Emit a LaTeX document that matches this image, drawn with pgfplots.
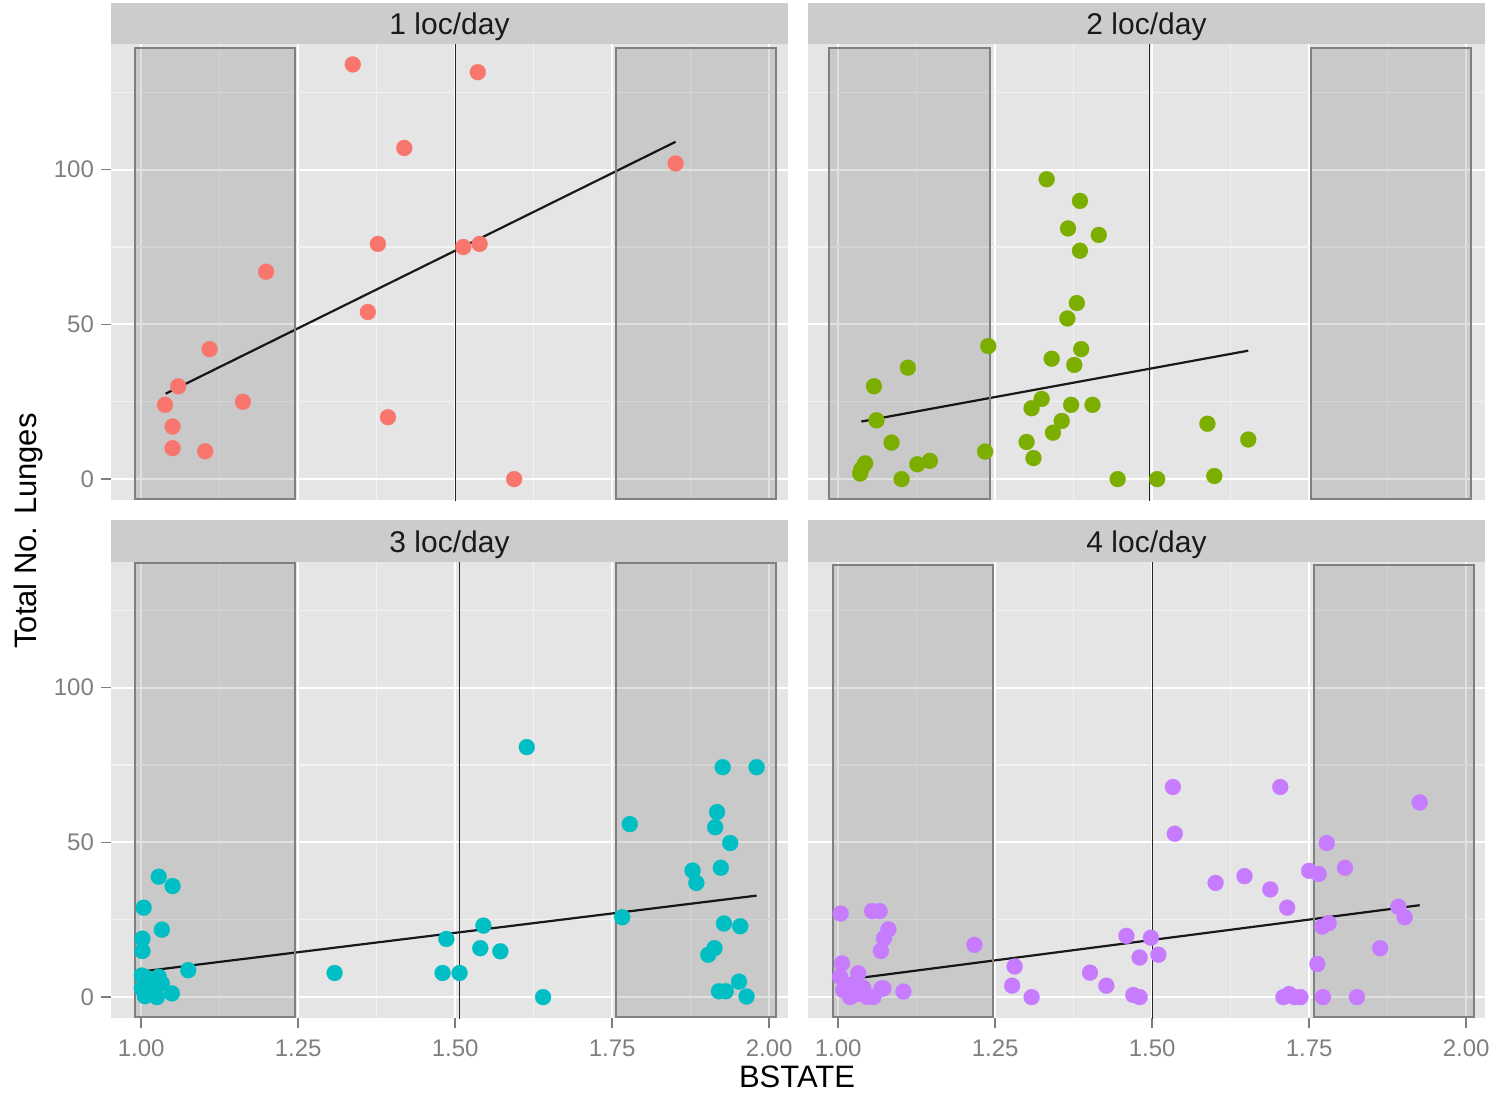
\documentclass[border=0pt]{standalone}
\usepackage{fontspec}
\setmainfont{Liberation Sans}
\usepackage{pgfplots}
\pgfplotsset{compat=1.18}
\definecolor{c1}{HTML}{F8766D}
\definecolor{c2}{HTML}{7CAE00}
\definecolor{c3}{HTML}{00BFC4}
\definecolor{c4}{HTML}{C77CFF}
\definecolor{bgpanel}{HTML}{E5E5E5}
\definecolor{gridminor}{HTML}{F2F2F2}
\definecolor{stripbg}{HTML}{CCCCCC}
\definecolor{tickgray}{HTML}{7F7F7F}
\definecolor{striptext}{HTML}{1A1A1A}
\pgfplotsset{
  facet/.style={
    scale only axis, width=338.5pt, height=228pt,
    xmin=0.952, xmax=2.030, ymin=-6.75, ymax=140.6,
    axis background/.style={fill=bgpanel},
    axis line style={draw=none},
    xtick={1,1.25,1.5,1.75,2}, ytick={0,50,100},
    minor xtick={1.125,1.375,1.625,1.875}, minor ytick={25,75,125},
    grid=both,
    major grid style={white, line width=1.1pt},
    minor grid style={gridminor, line width=0.55pt},
    tick align=outside,
    major tick length=5pt, minor tick length=0pt,
    tick style={tickgray, line width=0.8pt},
    xtick pos=bottom, ytick pos=left,
    /pgf/number format/assume math mode=true,
    tick label style={font=\fontsize{12}{14}\selectfont, text=tickgray},
    xticklabel style={yshift=-2.5pt},
  },
  xlab/.style={xticklabel={\pgfmathprintnumber[fixed,fixed zerofill,precision=2,assume math mode=true]{\tick}}},
  ylab/.style={yticklabel={\pgfmathprintnumber[assume math mode=true]{\tick}}},
  noxt/.style={xticklabels={}, every x tick/.append style={draw=none}},
  noyt/.style={yticklabels={}, every y tick/.append style={draw=none}},
  pts/.style={only marks, mark=*, mark size=4pt, color=#1, mark options={draw=#1, fill=#1, line width=0.1pt}},
  fitline/.style={black!90, line width=1.1pt, no marks},
  box/.style={draw=black!50, line width=1pt, fill=black, fill opacity=0.12, draw opacity=1, no marks},
  vline/.style={black!85, line width=0.6pt, no marks},
}
\begin{document}
\begin{tikzpicture}
\useasboundingbox (0,0) rectangle (751.5pt,547pt);
% Panel 1
\begin{axis}[facet, ylab, noxt, at={(55.5pt,297pt)}, anchor=south west]
\addplot[pts=c1] coordinates {
(1.337,134) (1.536,131.5) (1.419,107) (1.851,102) (1.377,76) (1.513,75) (1.539,76)
(1.199,67) (1.361,54) (1.109,42) (1.059,30) (1.038,24) (1.162,25) (1.050,17)
(1.050,10) (1.102,9) (1.393,20) (1.594,0)};
\addplot[fitline] coordinates {(1.039,27.6) (1.851,109.0)};
\addplot[box] coordinates {(0.990,-6.3) (1.245,-6.3) (1.245,139.3) (0.990,139.3)} -- cycle;
\addplot[box] coordinates {(1.756,-6.3) (2.011,-6.3) (2.011,139.3) (1.756,139.3)} -- cycle;
\addplot[vline] coordinates {(1.501,-7) (1.501,141)};
\end{axis}
% Panel 2
\begin{axis}[facet, noxt, noyt, at={(404pt,297pt)}, anchor=south west]
\addplot[pts=c2] coordinates {
(1.332,96.9) (1.385,89.9) (1.366,81.0) (1.415,78.9) (1.385,73.8) (1.380,56.9)
(1.365,51.9) (1.239,43.0) (1.387,42.0) (1.340,38.9) (1.376,36.9) (1.111,36.0)
(1.057,30.0) (1.324,25.9) (1.308,22.9) (1.371,24.0) (1.405,24.0) (1.356,18.8)
(1.061,19.0) (1.588,17.9) (1.342,15.0) (1.085,11.8) (1.653,12.8) (1.300,12.0)
(1.234,8.9) (1.311,6.8) (1.146,5.9) (1.126,4.8) (1.043,5.1) (1.037,3.2)
(1.035,1.8) (1.101,0) (1.445,0) (1.508,0) (1.599,1.0)};
\addplot[fitline] coordinates {(1.037,18.6) (1.653,41.5)};
\addplot[box] coordinates {(0.986,-6.3) (1.242,-6.3) (1.242,139.3) (0.986,139.3)} -- cycle;
\addplot[box] coordinates {(1.753,-6.3) (2.008,-6.3) (2.008,139.3) (1.753,139.3)} -- cycle;
\addplot[vline] coordinates {(1.496,-7) (1.496,141)};
\end{axis}
% Panel 3
\begin{axis}[facet, xlab, ylab, at={(55.5pt,38pt)}, anchor=south west]
\addplot[pts=c3] coordinates {
(1.614,80.8) (1.926,74.3) (1.980,74.3) (1.917,59.8) (1.778,55.9) (1.914,54.9)
(1.938,49.8) (1.923,41.8) (1.878,40.9) (1.884,36.9) (1.028,38.9) (1.050,35.9)
(1.004,28.9) (1.033,21.8) (1.002,18.9) (1.002,14.9) (1.766,25.8) (1.928,23.8)
(1.954,22.9) (1.545,23.1) (1.486,18.8) (1.540,15.8) (1.572,14.8) (1.913,15.8)
(1.903,13.7) (1.075,8.7) (1.308,7.8) (1.480,7.8) (1.507,7.8) (1.952,5.0)
(1.920,1.9) (1.931,1.9) (1.964,0.2) (1.640,0)
(1.001,7.0) (1.006,6.5) (1.028,6.6) (1.033,4.4) (1.001,2.8) (1.006,0.3)
(1.025,0) (1.049,1.2) (1.015,3.5) (1.020,1.0)};
\addplot[fitline] coordinates {(1.002,8.3) (1.980,32.8)};
\addplot[box] coordinates {(0.990,-6.3) (1.245,-6.3) (1.245,140.3) (0.990,140.3)} -- cycle;
\addplot[box] coordinates {(1.756,-6.3) (2.011,-6.3) (2.011,140.3) (1.756,140.3)} -- cycle;
\addplot[vline] coordinates {(1.507,-7) (1.507,141)};
\end{axis}
% Panel 4
\begin{axis}[facet, xlab, noyt, at={(404pt,38pt)}, anchor=south west]
\addplot[pts=c4] coordinates {
(1.533,67.9) (1.704,67.9) (1.926,62.9) (1.536,52.8) (1.778,49.8) (1.807,41.8)
(1.750,40.8) (1.765,39.8) (1.647,39.1) (1.601,36.9) (1.688,34.8) (1.715,28.9)
(1.892,29.2) (1.902,25.8) (1.781,23.9) (1.771,22.8) (1.004,27.0) (1.054,27.8)
(1.066,27.8) (1.080,21.9) (1.073,19.0) (1.068,14.9) (1.217,16.9) (1.459,19.8)
(1.498,19.2) (1.480,12.8) (1.510,13.7) (1.863,15.8) (1.763,10.7) (1.281,9.9)
(1.401,7.9) (1.277,3.7) (1.427,3.7) (1.308,0) (1.470,0.7) (1.480,0)
(1.709,0) (1.718,1) (1.727,0) (1.736,0) (1.772,0) (1.826,0) (1.104,1.8) (1.069,2.8)
(1.006,10.9) (1.032,7.7) (1.003,6.6) (1.008,2.3) (1.019,0) (1.046,0.1)
(1.056,0) (1.072,2.8) (1.020,4) (1.040,3) (1.030,1)};
\addplot[fitline] coordinates {(1.004,5.4) (1.926,29.7)};
\addplot[box] coordinates {(0.991,-6.3) (1.246,-6.3) (1.246,139.5) (0.991,139.5)} -- cycle;
\addplot[box] coordinates {(1.757,-6.3) (2.013,-6.3) (2.013,139.5) (1.757,139.5)} -- cycle;
\addplot[vline] coordinates {(1.500,-7) (1.500,141)};
\end{axis}
% strips
\fill[stripbg] (55.5pt,525pt) rectangle (394pt,545.5pt);
\fill[stripbg] (404pt,525pt) rectangle (742.5pt,545.5pt);
\fill[stripbg] (55.5pt,266pt) rectangle (394pt,287pt);
\fill[stripbg] (404pt,266pt) rectangle (742.5pt,287pt);
\node[anchor=base, text=striptext, font=\fontsize{15}{18}\selectfont, inner sep=0pt] at (224.75pt,529.5pt) {1 loc/day};
\node[anchor=base, text=striptext, font=\fontsize{15}{18}\selectfont, inner sep=0pt] at (573.25pt,529.5pt) {2 loc/day};
\node[anchor=base, text=striptext, font=\fontsize{15}{18}\selectfont, inner sep=0pt] at (224.75pt,271pt) {3 loc/day};
\node[anchor=base, text=striptext, font=\fontsize{15}{18}\selectfont, inner sep=0pt] at (573.25pt,271pt) {4 loc/day};
% axis titles
\node[font=\fontsize{15.5}{18}\selectfont, inner sep=0pt] at (398.5pt,8.5pt) {BSTATE};
\node[font=\fontsize{15.5}{18}\selectfont, inner sep=0pt, rotate=90] at (14pt,281.5pt) {Total No. Lunges};
\end{tikzpicture}
\end{document}
